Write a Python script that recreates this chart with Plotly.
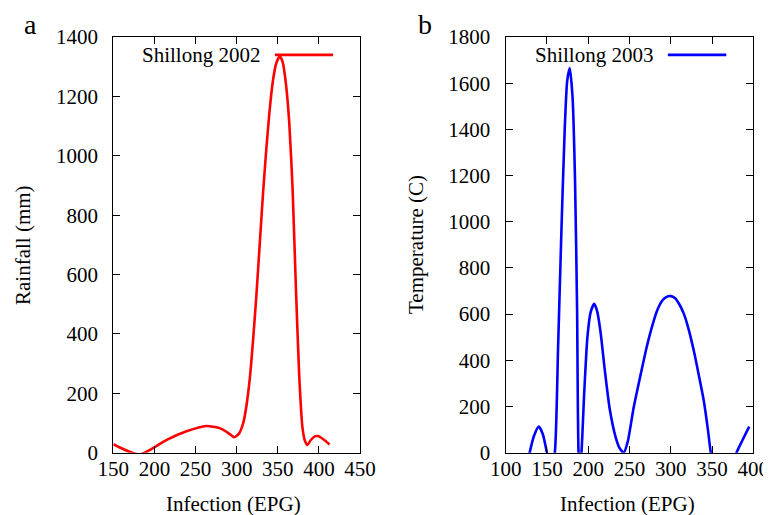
import plotly.graph_objects as go

# Panel a: Shillong 2002 rainfall vs infection
x_2002 = [150, 160, 170, 182, 195, 215, 239, 263, 280, 290, 297, 303, 308, 312, 316, 320, 324,
          328, 332, 336, 340, 344, 348, 352.5, 356, 360, 364, 368, 372, 376, 380, 383, 386,
          390, 395, 399, 405, 413]
rain_2002 = [29, 15, 3, -6, 10, 43, 72, 90, 82, 66, 52, 65, 100, 160, 250, 380, 530,
             700, 870, 1020, 1150, 1250, 1310, 1335, 1315, 1240, 1110, 890, 560, 265, 85, 40, 26,
             42, 55, 56, 46, 28]

# Panel b: Shillong 2003 temperature vs infection
x_2003 = [120, 129, 134, 140, 145, 150, 155, 159.5, 163.5, 167.5, 171.5, 174.5, 177.6, 181, 184,
          186.5, 188.3, 190, 191.8, 195, 199, 203, 207.3, 211, 215, 220, 226, 233, 238, 243,
          248, 255, 263, 271, 278, 284, 290, 295, 300, 305, 310, 316, 322, 328, 334, 340, 345,
          348.5, 355, 365, 373, 379.7, 387, 395]
temp_2003 = [-150, 0, 70, 113, 80, 0, -70, 0, 460, 960, 1400, 1610, 1666, 1540, 1180,
             620, 0, -60, 0, 250, 500, 610, 645, 610, 520, 360, 190, 70, 20, 0,
             50, 195, 330, 460, 555, 620, 660, 675, 678, 670, 645, 600, 530, 440, 335, 225, 100,
             0, -110, -160, -100, 0, 55, 113]

label_2002 = "Shillong 2002"
label_2003 = "Shillong 2003"
ticks_x_a = [150, 200, 250, 300, 350, 400, 450]
ticks_y_a = [0, 200, 400, 600, 800, 1000, 1200, 1400]
ticks_x_b = [100, 150, 200, 250, 300, 350, 400]
ticks_y_b = [0, 200, 400, 600, 800, 1000, 1200, 1400, 1600, 1800]

FONT = "Liberation Serif, DejaVu Serif, serif"
FS = 21
# page has an 8px body margin; figure is sized to fit the window
OFF = 8
W, H = 771 - OFF, 515 - OFF


def px(x):
    return (x - OFF) / W


def py(y):
    return 1 - (y - OFF) / H


fig = go.Figure()
fig.add_trace(go.Scatter(x=x_2002, y=rain_2002, mode="lines", name=label_2002,
                         line=dict(color="#ff0000", width=2.6, shape="spline", smoothing=0.6),
                         xaxis="x", yaxis="y", showlegend=False))
fig.add_trace(go.Scatter(x=x_2003, y=temp_2003, mode="lines", name=label_2003,
                         line=dict(color="#0000ff", width=2.6, shape="spline", smoothing=0.6),
                         xaxis="x2", yaxis="y2", showlegend=False))

ax_common = dict(showline=True, linecolor="black", linewidth=1.3, mirror="allticks",
                 ticks="inside", ticklen=7, tickwidth=1.2, tickcolor="black",
                 showgrid=False, zeroline=False, automargin=False,
                 tickfont=dict(family=FONT, size=FS, color="black"))

ydom = [py(452.7), py(37)]
fig.update_layout(
    template="none",
    width=W, height=H,
    margin=dict(l=0, r=0, t=0, b=0),
    paper_bgcolor="white", plot_bgcolor="white",
    font=dict(family=FONT, color="black"),
    xaxis=dict(domain=[px(113.3), px(360)], range=[150, 450], tickvals=ticks_x_a, anchor="y",
               ticklabelstandoff=-3, **ax_common),
    yaxis=dict(domain=ydom, range=[0, 1400], tickvals=ticks_y_a, anchor="x",
               ticklabelstandoff=10, **ax_common),
    xaxis2=dict(domain=[px(505.7), px(753.3)], range=[100, 400], tickvals=ticks_x_b, anchor="y2",
                ticklabelstandoff=-3, **ax_common),
    yaxis2=dict(domain=ydom, range=[0, 1800], tickvals=ticks_y_b, anchor="x2",
                ticklabelstandoff=10, **ax_common),
)

# legend-style keys (gnuplot style: text then line sample)
for xr, yr, txt, col in [("x domain", "y domain", label_2002, "#ff0000"),
                         ("x2 domain", "y2 domain", label_2003, "#0000ff")]:
    fig.add_annotation(x=0.603, y=0.957, xref=xr, yref=yr, text=txt, showarrow=False,
                       xanchor="right", yanchor="middle",
                       font=dict(family=FONT, size=FS, color="black"))
    fig.add_shape(type="line", x0=0.655, x1=0.891, y0=0.957, y1=0.957, xref=xr, yref=yr,
                  line=dict(color=col, width=2.6))

# axis titles and panel letters
annots = [
    dict(x=px(233), y=py(504), text="Infection (EPG)", textangle=0),
    dict(x=px(627), y=py(504), text="Infection (EPG)", textangle=0),
    dict(x=px(23), y=py(245), text="Rainfall (mm)", textangle=-90),
    dict(x=px(416), y=py(245), text="Temperature (C)", textangle=-90),
]
for a in annots:
    fig.add_annotation(xref="paper", yref="paper", showarrow=False,
                       xanchor="center", yanchor="middle",
                       font=dict(family=FONT, size=FS, color="black"), **a)
fig.add_annotation(x=px(30), y=py(25), xref="paper", yref="paper", text="a",
                   showarrow=False, xanchor="center", yanchor="middle",
                   font=dict(family=FONT, size=28, color="black"))
fig.add_annotation(x=px(425), y=py(25), xref="paper", yref="paper", text="b",
                   showarrow=False, xanchor="center", yanchor="middle",
                   font=dict(family=FONT, size=28, color="black"))

fig.write_html("out.html")
